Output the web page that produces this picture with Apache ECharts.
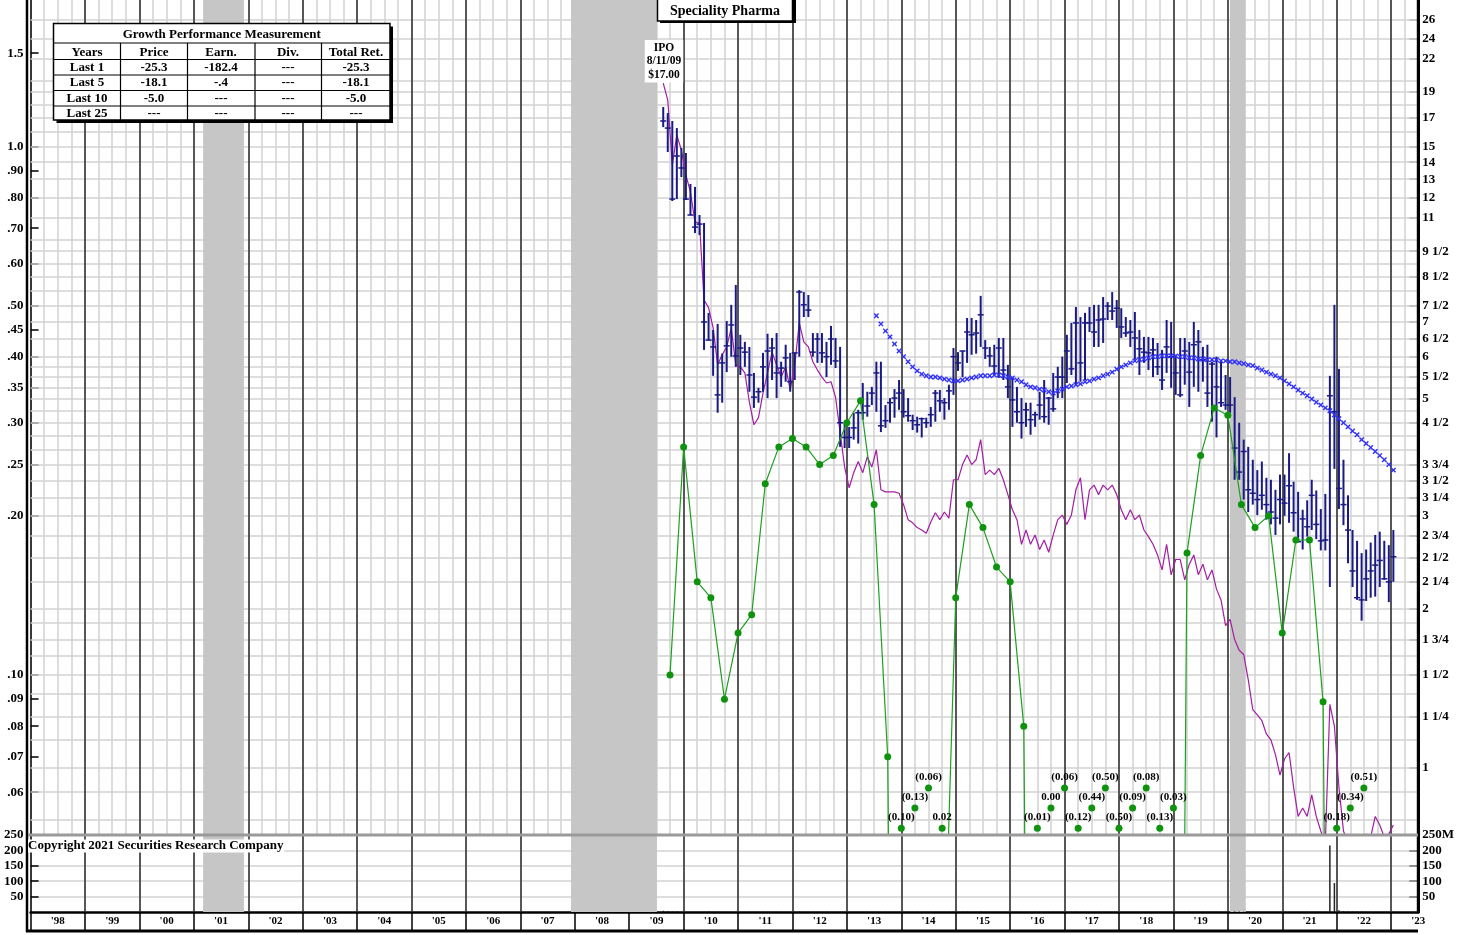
<!DOCTYPE html>
<html>
<head>
<meta charset="utf-8">
<script src="https://cdn.jsdelivr.net/npm/echarts@6.0.0/dist/echarts.min.js"></script>
<style>
html,body{margin:0;padding:0;background:#fff;}
#chart{width:1470px;height:935px;}
</style>
</head>
<body>
<div id="chart"></div>
<script>
// ================= DATA =================
// Monthly price bars, first bar = Aug 2009 (IPO month)
const START_YEAR = 2009, START_MONTH = 8;

const PRICE_HIGH = [
17.80,17.34,16.75,16.24,14.89,14.57,12.73,12.57,11.12,10.74,
7.26,6.74,6.92,6.08,7.01,7.52,8.20,6.60,6.40,6.26,
5.59,5.24,6.10,6.63,6.51,6.65,5.87,6.32,6.10,6.10,
8.02,7.95,7.85,6.65,6.65,6.65,6.40,6.86,6.51,6.26,
4.50,4.42,4.70,4.76,5.35,5.15,5.26,5.87,5.87,4.86,
5.01,5.21,5.42,5.21,5.01,4.66,4.62,4.60,4.60,4.82,
5.19,5.19,5.01,5.31,6.23,6.12,6.15,7.10,7.10,7.04,
7.82,6.45,6.26,6.32,6.51,6.51,5.79,5.49,5.26,5.01,
4.91,4.91,4.72,5.15,5.42,5.03,5.59,5.74,6.00,6.60,
6.95,7.45,7.13,7.26,7.45,7.52,7.52,7.78,7.61,7.95,
7.68,7.41,7.13,7.04,7.29,6.74,6.54,6.54,6.51,6.37,
6.18,7.04,6.98,6.05,6.51,6.51,6.40,6.98,6.74,6.26,
6.32,5.87,6.00,5.92,5.54,5.49,5.03,4.50,4.18,4.05,
3.83,3.66,3.80,3.54,3.51,3.36,3.59,3.59,3.94,3.48,
3.33,3.08,3.21,3.51,3.35,3.09,3.30,5.52,7.52,5.69,
3.83,3.28,2.82,2.69,2.55,2.59,2.67,2.76,2.80,2.69,
2.64,2.82];

const PRICE_LOW = [
16.31,14.63,11.82,11.92,13.12,11.87,11.12,10.28,10.19,6.18,
6.45,5.52,4.70,4.91,5.61,6.00,5.74,5.54,5.74,5.15,
4.80,4.91,5.15,5.01,5.42,5.01,5.26,5.38,5.15,5.42,
6.00,7.13,7.13,6.00,5.84,5.84,5.49,5.79,5.71,4.05,
4.03,4.03,4.18,4.11,4.56,4.62,4.86,4.72,4.32,4.40,
4.50,4.60,4.76,4.60,4.52,4.36,4.31,4.22,4.40,4.42,
4.52,4.72,4.56,4.76,5.08,5.64,5.49,5.84,6.05,6.08,
6.26,5.94,5.74,5.54,5.47,5.42,5.01,4.42,4.50,4.20,
4.42,4.27,4.42,4.56,4.50,4.46,4.72,5.01,5.01,5.35,
5.54,5.31,5.38,5.42,6.68,6.26,6.26,6.37,7.04,7.04,
6.80,6.51,6.54,6.26,5.92,5.54,5.84,5.66,5.49,5.54,
5.19,5.59,5.24,5.08,5.03,5.31,4.82,5.26,5.15,5.38,
4.82,4.52,4.22,4.82,4.76,4.70,3.51,3.51,3.22,3.05,
3.15,3.01,3.08,2.95,2.89,2.76,2.89,3.00,2.91,2.80,
2.68,2.59,2.74,2.82,2.71,2.58,2.58,2.20,3.68,3.09,
2.88,2.44,2.20,2.08,1.90,2.07,2.10,2.11,2.20,2.27,
2.06,2.25];

const PRICE_CLOSE = [
16.75,16.24,11.92,14.38,13.65,11.92,11.12,10.55,10.69,6.98,
6.45,6.26,5.08,5.84,6.29,6.89,6.02,6.23,6.12,5.54,
5.03,5.15,5.74,6.15,6.23,5.59,5.71,5.97,5.38,6.10,
7.95,7.52,7.35,6.12,6.48,6.10,6.00,6.48,5.89,4.50,
4.22,4.22,4.40,4.70,4.70,4.84,5.12,5.59,4.44,4.54,
4.91,5.01,5.12,4.72,4.64,4.54,4.46,4.58,4.50,4.66,
5.12,4.95,4.91,5.17,6.00,5.84,6.15,6.68,6.60,6.65,
7.20,6.23,6.02,5.76,6.23,5.66,5.26,4.97,4.72,4.50,
4.76,4.56,4.66,4.86,4.62,5.01,4.78,5.49,5.49,6.15,
5.69,6.95,5.84,6.95,6.95,6.68,7.04,7.07,7.48,7.32,
7.41,6.83,6.65,6.68,6.51,6.21,6.12,6.10,6.18,5.74,
5.42,6.26,6.00,5.59,5.08,6.15,5.61,6.32,6.40,5.92,
5.12,5.81,5.26,4.91,4.86,4.86,4.03,3.63,3.97,3.36,
3.31,3.22,3.28,3.15,3.05,2.97,3.22,3.17,3.42,3.04,
2.68,2.96,2.86,3.28,2.89,2.69,2.70,5.06,4.72,3.38,
3.15,2.82,2.36,2.10,2.08,2.28,2.36,2.42,2.47,2.28,
2.25,2.51];

// Relative strength line (magenta), monthly from Aug 2009
const REL_STRENGTH = [
19.76,18.35,13.83,15.75,14.76,13.24,12.29,10.79,10.74,7.68,
7.43,6.80,5.79,6.05,6.26,6.80,5.79,5.74,5.59,4.92,
4.46,4.60,5.12,5.59,6.12,5.79,5.49,5.74,5.19,5.79,
6.95,6.40,6.26,5.87,5.66,5.49,5.35,5.38,5.03,4.32,
3.71,3.39,3.62,3.80,3.62,3.88,3.71,4.00,3.36,3.33,
3.33,3.33,3.31,3.15,2.95,2.91,2.85,2.82,2.78,2.92,
3.04,2.95,3.05,2.97,3.51,3.51,3.75,3.91,3.75,3.83,
4.18,3.59,3.66,3.59,3.69,3.51,3.29,3.08,2.95,2.65,
2.82,2.65,2.76,2.59,2.70,2.56,2.76,2.95,3.01,2.89,
3.01,3.36,3.54,2.95,3.36,3.43,3.29,3.43,3.36,3.43,
3.29,3.08,2.95,3.08,2.95,3.01,2.82,2.74,2.65,2.53,
2.37,2.65,2.32,2.48,2.48,2.27,2.43,2.53,2.32,2.43,
2.27,2.37,2.18,2.08,1.86,1.91,1.75,1.67,1.64,1.47,
1.29,1.26,1.23,1.16,1.13,1.06,0.97,1.04,1.07,0.92,
0.81,0.84,0.81,0.89,0.81,0.76,0.72,1.32,1.20,0.92,
0.76,0.72,0.70,0.70,0.72,0.75,0.74,0.81,0.78,0.74,
0.75,0.78];

// Price moving average (blue x marks), starts at bar index 47
const MA_START_INDEX = 47;
const MOVING_AVG = [
7.17,6.92,6.71,6.54,6.34,6.15,6.00,5.87,5.74,5.64,
5.56,5.52,5.49,5.49,5.47,5.44,5.42,5.40,5.40,5.42,
5.44,5.47,5.49,5.52,5.52,5.52,5.54,5.54,5.52,5.49,
5.47,5.42,5.38,5.31,5.26,5.24,5.21,5.19,5.15,5.12,
5.17,5.21,5.26,5.28,5.31,5.33,5.38,5.40,5.44,5.47,
5.52,5.56,5.61,5.68,5.74,5.79,5.84,5.89,5.92,5.94,
5.97,6.00,6.00,6.02,6.02,6.02,6.02,6.00,6.00,5.97,
5.97,5.94,5.94,5.92,5.92,5.92,5.89,5.89,5.87,5.87,
5.84,5.82,5.79,5.77,5.71,5.66,5.61,5.56,5.52,5.47,
5.40,5.33,5.26,5.19,5.12,5.06,4.99,4.92,4.86,4.80,
4.74,4.66,4.58,4.50,4.42,4.34,4.27,4.18,4.11,4.04,
3.97,3.90,3.83,3.75,3.66];

// Monthly volume (millions)
const VOLUME = [
4,3,2,2,1,1,1,1,1,2,
2,1,1,1,1,1,1,1,1,1,
1,1,1,1,1,1,1,1,1,1,
2,1,1,1,1,1,1,1,1,2,
1,1,1,1,1,1,1,1,1,1,
1,1,1,1,1,1,1,1,1,1,
1,1,1,1,2,1,1,2,1,1,
2,1,1,1,1,1,1,1,1,1,
1,1,1,1,1,1,1,1,1,1,
1,2,1,1,1,1,1,1,1,1,
1,1,1,1,1,1,1,1,1,1,
1,1,1,1,1,1,1,1,1,1,
1,1,1,1,1,1,2,2,1,1,
1,1,1,1,1,1,1,1,1,1,
1,1,1,1,1,1,1,216,94,6,
3,2,2,2,2,1,1,1,1,1,
1,1];

// Quarterly trailing earnings per share, first = Q3 2009
const EARN_START = 2009.75;
const EARNINGS = [
0.10,0.27,0.15,0.14,0.09,0.12,0.13,0.23,0.27,0.28,
0.27,0.25,0.26,0.30,0.33,0.21,0.07,-0.10,-0.13,-0.06,
0.02,0.14,0.21,0.19,0.16,0.15,0.08,-0.01,0.00,-0.06,
-0.12,-0.44,-0.50,-0.50,-0.09,-0.08,-0.13,-0.03,0.17,0.26,
0.32,0.31,0.21,0.19,0.20,0.12,0.18,0.18,0.089,-0.18,
-0.34,-0.51];

const PRICE_TICK_LABELS = ['26','24','22','19','17','15','14','13','12','11','9 1/2','8 1/2','7 1/2','7','6 1/2','6','5 1/2','5','4 1/2','3 3/4','3 1/2','3 1/4','3','2 3/4','2 1/2','2 1/4','2','1 3/4','1 1/2','1 1/4','1'];
const PRICE_GRID_VALUES = [26,24,22,20,19,18,17,16,15,14,13,12,11,10,9.5,9,8.5,8,7.5,7,6.5,6,5.75,5.5,5.25,5,4.75,4.5,4.25,4,3.75,3.5,3.25,3,2.75,2.5,2.25,2,1.875,1.75,1.625,1.5,1.375,1.25,1.125,1,0.9,0.8];
const EARN_TICKS = [0.06,0.07,0.08,0.09,0.10,0.20,0.25,0.30,0.35,0.40,0.45,0.50,0.60,0.70,0.80,0.90,1.0,1.5];
const VOLUME_TICKS = [50,100,150,200,250];
const YEAR_LABELS = ["'98","'99","'00","'01","'02","'03","'04","'05","'06","'07","'08","'09","'10","'11","'12","'13","'14","'15","'16","'17","'18","'19","'20","'21","'22","'23"];
const RECESSIONS = [[2001.17,2001.92],[2007.93,2009.51],[2020.04,2020.33]];

const TITLE = 'Speciality Pharma';
const IPO_NOTE = ['IPO','8/11/09','$17.00'];
const COPYRIGHT = 'Copyright 2021 Securities Research Company';
const TABLE_TITLE = 'Growth Performance Measurement';
const TABLE_HEAD = ['Years','Price','Earn.','Div.','Total Ret.'];
const TABLE_ROWS = [
  ['Last 1','-25.3','-182.4','---','-25.3'],
  ['Last 5','-18.1','-.4','---','-18.1'],
  ['Last 10','-5.0','---','---','-5.0'],
  ['Last 25','---','---','---','---']
];

// ================= SCALES / STYLE =================
const X_MIN = 1998, X_MAX = 2023.5;
const PRICE_MIN = 0.747, PRICE_MAX = 28.37, EARN_RATIO = 15;
const EARN_MIN = PRICE_MIN / EARN_RATIO, EARN_MAX = PRICE_MAX / EARN_RATIO;
const OFFSCALE_STEPS = [1.03, 1.125, 1.227];   // stacked rows used for off-scale earnings
const OFFSCALE_FLOOR = 1e-4;
const GRID_LEFT = 30.6, GRID_RIGHT = 51.7;
const SERIF = '"Liberation Serif","Times New Roman",serif';
const BAR_COLOR = '#1a1a85', RS_COLOR = '#a21ea2', MA_COLOR = '#2f2fff', EARN_COLOR = '#1f9f1f', DOT_COLOR = '#0f930f';
const LIGHT_GRID = '#d2d2d2', YEAR_LINE = '#2a2a2a', SHADE = '#c6c6c6';

const monthDate = m => START_YEAR + (START_MONTH - 0.5) / 12 + m / 12;
function parseFrac(s) {
  const parts = s.split(' ');
  let v = parseFloat(parts[0]);
  if (parts[1]) { const f = parts[1].split('/'); v += (+f[0]) / (+f[1]); }
  return v;
}
const PRICE_TICKS = PRICE_TICK_LABELS.map(parseFrac);
function priceLabel(v) {
  let best = '', d = Infinity;
  PRICE_TICKS.forEach((t, i) => { const dd = Math.abs(t - v); if (dd < d) { d = dd; best = PRICE_TICK_LABELS[i]; } });
  return best;
}
function earnAxisLabel(v) { return v >= 1 ? v.toFixed(1) : '.' + v.toFixed(2).slice(2); }
function earnValueLabel(v) { return v < 0 ? '(' + Math.abs(v).toFixed(2) + ')' : v.toFixed(2); }

// ================= DERIVED SERIES DATA =================
const barData = PRICE_HIGH.map((h, i) => [monthDate(i), h, PRICE_LOW[i], PRICE_CLOSE[i]]);
const rsData = REL_STRENGTH.map((v, i) => [monthDate(i), v]);
const maData = MOVING_AVG.map((v, i) => [monthDate(MA_START_INDEX + i), v]);
const volData = VOLUME.map((v, i) => [monthDate(i), v]);
const earnDates = EARNINGS.map((v, i) => EARN_START + i * 0.25);
const earnLineData = EARNINGS.map((v, i) => [earnDates[i], v > 0 ? v : OFFSCALE_FLOOR]);
const offscaleData = [];
let run = 0;
EARNINGS.forEach((v, i) => {
  if (v < EARN_MIN) {
    offscaleData.push([earnDates[i], EARN_MIN * OFFSCALE_STEPS[run % 3], v]);
    run++;
  } else run = 0;
});
const years = [];
for (let y = X_MIN + 1; y <= Math.floor(X_MAX); y++) years.push(y);
const yearTicks = [];
for (let y = X_MIN; y <= Math.floor(X_MAX); y++) yearTicks.push(y);
const yearMids = YEAR_LABELS.map((s, i) => X_MIN + i + 0.5);

const gridMarkLines = PRICE_GRID_VALUES.map(v => ({ yAxis: v, lineStyle: { color: LIGHT_GRID, width: 1.5, type: 'solid' } }))
  .concat(years.map(y => ({ xAxis: y, lineStyle: { color: YEAR_LINE, width: 1.5, type: 'solid' } })));
const yearMarkLines = years.map(y => ({ xAxis: y, lineStyle: { color: YEAR_LINE, width: 1.5, type: 'solid' } }));
const shadeAreas = RECESSIONS.map(r => [{ xAxis: r[0] }, { xAxis: r[1] }]);

const axisFont = { color: '#000', fontFamily: SERIF, fontWeight: 'bold', fontSize: 13 };

// ================= OPTION =================
const option = {
  animation: false,
  backgroundColor: '#fff',
  grid: [
    { left: GRID_LEFT, right: GRID_RIGHT, top: 0, height: 835 },
    { left: GRID_LEFT, right: GRID_RIGHT, top: 835, height: 77 }
  ],
  xAxis: [
    { type: 'value', gridIndex: 0, min: X_MIN, max: X_MAX, interval: 0.25,
      axisLine: { show: false }, axisTick: { show: false }, axisLabel: { show: false },
      splitLine: { show: true, lineStyle: { color: LIGHT_GRID, width: 1.5 } } },
    { type: 'value', gridIndex: 1, min: X_MIN, max: X_MAX, interval: 0.25, position: 'bottom',
      axisLine: { show: true, onZero: false, lineStyle: { color: '#000', width: 2.5 } },
      axisTick: { show: true, customValues: yearTicks, length: 19, inside: false, lineStyle: { color: '#000', width: 1.5 } },
      axisLabel: { show: true, customValues: yearMids, margin: 4, color: '#000', fontFamily: SERIF, fontWeight: 'bold', fontSize: 11,
        formatter: v => YEAR_LABELS[Math.round(v - X_MIN - 0.5)] || '' },
      splitLine: { show: true, lineStyle: { color: LIGHT_GRID, width: 1.5 } } }
  ],
  yAxis: [
    { type: 'log', gridIndex: 0, position: 'right', min: PRICE_MIN, max: PRICE_MAX,
      axisLine: { show: true, lineStyle: { color: '#000', width: 3 } },
      axisTick: { show: true, inside: true, length: 9, customValues: PRICE_TICKS, lineStyle: { color: '#777', width: 1.5 } },
      axisLabel: Object.assign({ customValues: PRICE_TICKS, margin: 4, formatter: priceLabel }, axisFont),
      splitLine: { show: false } },
    { type: 'log', gridIndex: 0, position: 'left', min: EARN_MIN, max: EARN_MAX,
      axisLine: { show: true, lineStyle: { color: '#000', width: 1.5 } },
      axisTick: { show: true, inside: true, length: 8, customValues: EARN_TICKS, lineStyle: { color: '#000', width: 1.5 } },
      axisLabel: Object.assign({ customValues: EARN_TICKS, margin: 7, formatter: earnAxisLabel }, axisFont),
      splitLine: { show: false } },
    { type: 'value', gridIndex: 1, position: 'left', min: 0, max: 250, interval: 50,
      axisLine: { show: true, lineStyle: { color: '#000', width: 1.5 } },
      axisTick: { show: true, inside: true, length: 8, customValues: VOLUME_TICKS, lineStyle: { color: '#000', width: 1.5 } },
      axisLabel: Object.assign({ customValues: VOLUME_TICKS, margin: 7 }, axisFont),
      splitLine: { show: true, lineStyle: { color: LIGHT_GRID, width: 1.5 } } },
    { type: 'value', gridIndex: 1, position: 'right', min: 0, max: 250, interval: 50,
      axisLine: { show: true, lineStyle: { color: '#000', width: 3 } },
      axisTick: { show: true, inside: true, length: 9, customValues: VOLUME_TICKS, lineStyle: { color: '#777', width: 1.5 } },
      axisLabel: Object.assign({ customValues: VOLUME_TICKS, margin: 4, formatter: v => v === 250 ? '250M' : String(v) }, axisFont),
      splitLine: { show: false } }
  ],
  series: [
    { name: 'Relative Strength', type: 'line', xAxisIndex: 0, yAxisIndex: 0, data: rsData,
      symbol: 'none', clip: true, z: 4,
      lineStyle: { color: RS_COLOR, width: 1.2 },
      markLine: { silent: true, symbol: ['none', 'none'], label: { show: false }, z: 1, animation: false,
        emphasis: { disabled: true }, data: gridMarkLines },
      markArea: { silent: true, z: 2, itemStyle: { color: SHADE, opacity: 1 }, label: { show: false }, data: shadeAreas } },
    { name: 'Price', type: 'custom', xAxisIndex: 0, yAxisIndex: 0, data: barData, z: 5,
      encode: { x: 0, y: [1, 2, 3] },
      renderItem: function (params, api) {
        const x = api.value(0);
        const pH = api.coord([x, api.value(1)]);
        const pL = api.coord([x, api.value(2)]);
        const pC = api.coord([x, api.value(3)]);
        return { type: 'group', children: [
          { type: 'line', shape: { x1: pH[0], y1: pH[1], x2: pL[0], y2: pL[1] }, style: { stroke: BAR_COLOR, lineWidth: 2 } },
          { type: 'line', shape: { x1: pC[0] - 3, y1: pC[1], x2: pC[0] + 3, y2: pC[1] }, style: { stroke: BAR_COLOR, lineWidth: 1.5 } }
        ] };
      } },
    { name: 'Moving Average', type: 'custom', xAxisIndex: 0, yAxisIndex: 0, data: maData, z: 6,
      encode: { x: 0, y: 1 },
      renderItem: function (params, api) {
        const p = api.coord([api.value(0), api.value(1)]);
        const s = 2.2;
        return { type: 'group', children: [
          { type: 'line', shape: { x1: p[0] - s, y1: p[1] - s, x2: p[0] + s, y2: p[1] + s }, style: { stroke: MA_COLOR, lineWidth: 1.4 } },
          { type: 'line', shape: { x1: p[0] - s, y1: p[1] + s, x2: p[0] + s, y2: p[1] - s }, style: { stroke: MA_COLOR, lineWidth: 1.4 } }
        ] };
      } },
    { name: 'Earnings', type: 'line', xAxisIndex: 0, yAxisIndex: 1, data: earnLineData, z: 7, clip: true,
      symbol: 'circle', showAllSymbol: true,
      symbolSize: v => (v[1] >= EARN_MIN ? 7 : 0),
      lineStyle: { color: EARN_COLOR, width: 1.2 },
      itemStyle: { color: DOT_COLOR, borderWidth: 0, opacity: 1 } },
    { name: 'Earnings off scale', type: 'scatter', xAxisIndex: 0, yAxisIndex: 1, data: offscaleData, z: 8,
      encode: { x: 0, y: 1 }, clip: false,
      symbol: 'circle', symbolSize: 7, itemStyle: { color: DOT_COLOR, opacity: 1 },
      labelLayout: { hideOverlap: false },
      label: { show: true, position: 'top', distance: 2, color: '#000', opacity: 1, fontFamily: SERIF, fontWeight: 'bold', fontSize: 11,
        textBorderWidth: 0, formatter: p => earnValueLabel(p.value[2]) } },
    { name: 'Volume', type: 'bar', xAxisIndex: 1, yAxisIndex: 2, data: volData, z: 5,
      barWidth: 1.5, itemStyle: { color: '#222' },
      markLine: { silent: true, symbol: ['none', 'none'], label: { show: false }, z: 1, animation: false,
        emphasis: { disabled: true }, data: yearMarkLines },
      markArea: { silent: true, z: 2, itemStyle: { color: SHADE, opacity: 1 }, label: { show: false }, data: shadeAreas } }
  ],
  graphic: [
    { type: 'line', z: 100, shape: { x1: 27, y1: 0, x2: 27, y2: 932 }, style: { stroke: '#000', lineWidth: 2.5 } },
    { type: 'line', z: 100, shape: { x1: 1418.3, y1: 0, x2: 1418.3, y2: 912 }, style: { stroke: '#000', lineWidth: 3 } },
    { type: 'line', z: 100, shape: { x1: 26, y1: 931, x2: 1418, y2: 931 }, style: { stroke: '#000', lineWidth: 3 } },
    { type: 'line', z: 100, shape: { x1: 28, y1: 835, x2: 1418, y2: 835 }, style: { stroke: '#9a9a9a', lineWidth: 3 } },
    // title box
    { type: 'rect', z: 100, shape: { x: 660, y: -2, width: 136, height: 25 }, style: { fill: '#000' } },
    { type: 'rect', z: 101, shape: { x: 657.5, y: -2, width: 135, height: 23 }, style: { fill: '#fff', stroke: '#000', lineWidth: 1.5 } },
    { type: 'text', z: 102, style: { text: TITLE, x: 725, y: 11.5, align: 'center', verticalAlign: 'middle',
        fontFamily: SERIF, fontWeight: 'bold', fontSize: 14, fill: '#000' } },
    // IPO note
    { type: 'text', z: 102, style: { text: IPO_NOTE.join('\n'), x: 664, y: 40, align: 'center', verticalAlign: 'top',
        lineHeight: 13.5, fontFamily: SERIF, fontWeight: 'bold', fontSize: 11.5, fill: '#000', backgroundColor: '#fff', padding: [1, 2, 1, 2] } },
    // copyright
    { type: 'text', z: 102, style: { text: COPYRIGHT, x: 28, y: 846, align: 'left', verticalAlign: 'middle',
        fontFamily: SERIF, fontWeight: 'bold', fontSize: 13, fill: '#000', backgroundColor: '#fff', padding: [0, 1, 0, 0] } }
  ]
};

// performance table
(function () {
  const L = 53.5, R = 390, T = 23.5, B = 120;
  const colSeps = [120.5, 187.5, 255, 321.5];
  const colCenters = [87, 154, 221, 288, 356];
  const rowLines = [43, 59.5, 75, 90.5, 106];
  const rowY = [68, 83, 98.5, 114];
  const g = option.graphic;
  g.push({ type: 'rect', z: 100, shape: { x: L + 3, y: T + 3, width: R - L, height: B - T }, style: { fill: '#000' } });
  g.push({ type: 'rect', z: 101, shape: { x: L, y: T, width: R - L, height: B - T }, style: { fill: '#fff', stroke: '#000', lineWidth: 1.5 } });
  rowLines.forEach(y => g.push({ type: 'line', z: 102, shape: { x1: L, y1: y, x2: R, y2: y }, style: { stroke: '#000', lineWidth: 1.2 } }));
  colSeps.forEach(x => g.push({ type: 'line', z: 102, shape: { x1: x, y1: rowLines[0], x2: x, y2: B }, style: { stroke: '#000', lineWidth: 1.2 } }));
  const txt = (s, x, y, size) => g.push({ type: 'text', z: 103, style: { text: s, x: x, y: y, align: 'center', verticalAlign: 'middle',
      fontFamily: SERIF, fontWeight: 'bold', fontSize: size, fill: '#000' } });
  txt(TABLE_TITLE, (L + R) / 2, 34.5, 13);
  TABLE_HEAD.forEach((s, i) => txt(s, colCenters[i], 52.5, 13));
  TABLE_ROWS.forEach((row, r) => row.forEach((s, i) => txt(s, colCenters[i], rowY[r], 13)));
})();

const chart = echarts.init(document.getElementById('chart'), null, { renderer: 'canvas' });
chart.setOption(option);
</script>
</body>
</html>
